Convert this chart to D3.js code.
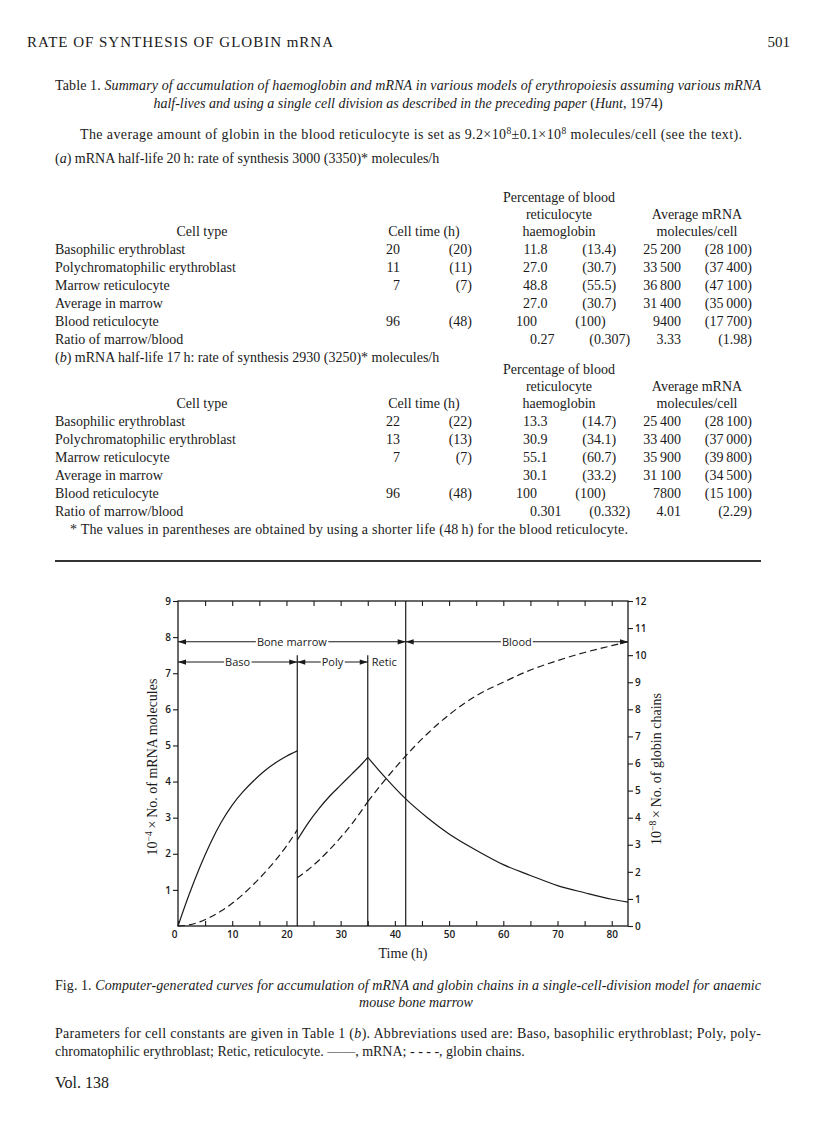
<!DOCTYPE html>
<html>
<head>
<meta charset="utf-8">
<title>Rate of synthesis of globin mRNA</title>
<script src="https://cdn.jsdelivr.net/npm/d3@7"></script>
<style>
body{margin:0;background:#fff;}
svg{display:block;}
.serif{font-family:"Liberation Serif","Times New Roman",serif;fill:#1a1a1a;}
.sans{font-family:"Open Sans",sans-serif;fill:#1a1a1a;}
</style>
</head>
<body>
<svg id="page" width="816" height="1136"></svg>
<script>
// ---- table data ----
const cellTypes = ["Basophilic erythroblast", "Polychromatophilic erythroblast", "Marrow reticulocyte",
                   "Average in marrow", "Blood reticulocyte", "Ratio of marrow/blood"];

const timeA = ["20", "11", "7", "", "96", ""];
const timeAltA = ["(20)", "(11)", "(7)", "", "(48)", ""];
const pctA = ["11.8", "27.0", "48.8", "27.0", "100", "0.27"];
const pctAltA = ["(13.4)", "(30.7)", "(55.5)", "(30.7)", "(100)", "(0.307)"];
const mrnaA = ["25\u2009200", "33\u2009500", "36\u2009800", "31\u2009400", "9400", "3.33"];
const mrnaAltA = ["(28\u2009100)", "(37\u2009400)", "(47\u2009100)", "(35\u2009000)", "(17\u2009700)", "(1.98)"];

const timeB = ["22", "13", "7", "", "96", ""];
const timeAltB = ["(22)", "(13)", "(7)", "", "(48)", ""];
const pctB = ["13.3", "30.9", "55.1", "30.1", "100", "0.301"];
const pctAltB = ["(14.7)", "(34.1)", "(60.7)", "(33.2)", "(100)", "(0.332)"];
const mrnaB = ["25\u2009400", "33\u2009400", "35\u2009900", "31\u2009100", "7800", "4.01"];
const mrnaAltB = ["(28\u2009100)", "(37\u2009000)", "(39\u2009800)", "(34\u2009500)", "(15\u2009100)", "(2.29)"];

// ---- figure data (time in h; mRNA x10^-4, globin x10^-8) ----
const basoT = [0, 2, 4, 6, 8, 10, 12, 14, 16, 18, 20, 22];
const basoMrna = [0, 0.85, 1.62, 2.3, 2.88, 3.35, 3.72, 4.03, 4.3, 4.52, 4.7, 4.85];
const basoGlobin = [0, 0.04, 0.15, 0.33, 0.56, 0.84, 1.17, 1.55, 1.97, 2.43, 2.95, 3.55];

const polyT = [22, 24, 26, 28, 30, 32, 34, 35];
const polyMrna = [2.38, 2.85, 3.25, 3.6, 3.9, 4.2, 4.5, 4.67];
const polyGlobin = [1.78, 2.08, 2.43, 2.83, 3.27, 3.75, 4.3, 4.59];

const lateT = [35, 38, 42, 46, 50, 55, 60, 65, 70, 75, 80, 83];
const lateMrna = [4.67, 4.15, 3.52, 3.0, 2.55, 2.1, 1.7, 1.4, 1.12, 0.92, 0.74, 0.66];
const lateGlobin = [4.59, 5.35, 6.28, 7.1, 7.8, 8.5, 9.0, 9.45, 9.8, 10.1, 10.35, 10.5];

const phaseEdges = [22, 35, 42];
const xTicks = d3.range(0, 81, 5);

const svg = d3.select("#page");
svg.append("rect").attr("width", 816).attr("height", 1136).attr("fill", "#fff");

// text helper: parts = [[string, "i"|"sup"|""], ...]
function line(x, y, parts, opts) {
	opts = opts || {};
	const size = opts.size || 14;
	const t = svg.append("text")
		.attr("class", opts.cls || "serif")
		.attr("x", x).attr("y", y)
		.attr("font-size", size)
		.attr("text-anchor", opts.anchor || "start");
	if (opts.len) t.attr("textLength", opts.len).attr("lengthAdjust", "spacing");
	let raised = false;
	parts.forEach(function(p){
		const s = t.append("tspan").text(p[0]);
		if (p[1] === "i") s.attr("font-style", "italic");
		if (p[1] === "sup") { s.attr("font-size", size * 0.68).attr("dy", -5); raised = true; }
		else if (raised) { s.attr("dy", 5); raised = false; }
	});
	return t;
}

// ---- running head ----
line(27, 47, [["RATE OF SYNTHESIS OF GLOBIN mRNA", ""]], {size: 15, len: 306});
line(790, 47, [["501", ""]], {size: 15, anchor: "end"});

// ---- table caption ----
line(55, 90, [["Table 1. ", ""], ["Summary of accumulation of haemoglobin and mRNA in various models of erythropoiesis assuming various mRNA", "i"]], {len: 706});
line(408, 108, [["half-lives and using a single cell division as described in the preceding paper ", "i"], ["(", ""], ["Hunt", "i"], [", 1974)", ""]], {anchor: "middle"});
line(80, 139, [["The average amount of globin in the blood reticulocyte is set as 9.2\u00d710", ""], ["8", "sup"], ["\u00b10.1\u00d710", ""], ["8", "sup"], [" molecules/cell (see the text).", ""]], {len: 662});

function decimal(x, y, s) {
	const i = s.indexOf(".");
	const head = i >= 0 ? s.slice(0, i) : s.replace(")", "");
	const tail = i >= 0 ? s.slice(i) : (s.endsWith(")") ? ")" : "");
	line(x, y, [[head, ""]], {anchor: "end"});
	if (tail) line(x, y, [[tail, ""]]);
}

function drawTable(y0, times, timesAlt, pct, pctAlt, mrna, mrnaAlt) {
	line(559, y0, [["Percentage of blood", ""]], {anchor: "middle"});
	line(559, y0 + 17, [["reticulocyte", ""]], {anchor: "middle"});
	line(697, y0 + 17, [["Average mRNA", ""]], {anchor: "middle"});
	line(202, y0 + 34, [["Cell type", ""]], {anchor: "middle"});
	line(424, y0 + 34, [["Cell time (h)", ""]], {anchor: "middle"});
	line(559, y0 + 34, [["haemoglobin", ""]], {anchor: "middle"});
	line(697, y0 + 34, [["molecules/cell", ""]], {anchor: "middle"});
	cellTypes.forEach(function(c, i){
		const y = y0 + 52 + i * 18;
		line(55, y, [[c, ""]]);
		if (times[i]) line(400, y, [[times[i], ""]], {anchor: "end"});
		if (timesAlt[i]) line(472, y, [[timesAlt[i], ""]], {anchor: "end"});
		decimal(537, y, pct[i]);
		decimal(601, y, pctAlt[i]);
		line(681, y, [[mrna[i], ""]], {anchor: "end"});
		line(752, y, [[mrnaAlt[i], ""]], {anchor: "end"});
	});
}

line(55, 163, [["(", ""], ["a", "i"], [") mRNA half-life 20\u2009h: rate of synthesis 3000 (3350)* molecules/h", ""]]);
drawTable(202, timeA, timeAltA, pctA, pctAltA, mrnaA, mrnaAltA);
line(55, 362, [["(", ""], ["b", "i"], [") mRNA half-life 17\u2009h: rate of synthesis 2930 (3250)* molecules/h", ""]]);
drawTable(374, timeB, timeAltB, pctB, pctAltB, mrnaB, mrnaAltB);
line(70, 534, [["* The values in parentheses are obtained by using a shorter life (48\u2009h) for the blood reticulocyte.", ""]], {len: 558});

svg.append("line").attr("x1", 55).attr("x2", 761).attr("y1", 561).attr("y2", 561)
	.attr("stroke", "#333").attr("stroke-width", 2);

// ---- figure ----
const x = d3.scaleLinear().domain([0, 83]).range([178, 628]);
const yL = d3.scaleLinear().domain([0, 9]).range([926, 601]);
const yR = d3.scaleLinear().domain([0, 12]).range([926, 601]);
const ink = "#1a1a1a";

const gAx = svg.append("g").attr("class", "sans").attr("font-size", 11).attr("font-weight", 600);

const axBottom = gAx.append("g").attr("transform", "translate(0,926)")
	.call(d3.axisBottom(x).tickValues(xTicks).tickSize(-5).tickPadding(5)
		.tickFormat(function(d){ return d % 10 === 0 ? d : ""; }));
const axTop = gAx.append("g").attr("transform", "translate(0,601)")
	.call(d3.axisTop(x).tickValues(xTicks.slice(1)).tickSize(-5).tickFormat(""));
const axLeft = gAx.append("g").attr("transform", "translate(178,0)")
	.call(d3.axisLeft(yL).tickValues(d3.range(1, 10)).tickSize(5).tickPadding(2));
const axRight = gAx.append("g").attr("transform", "translate(628,0)")
	.call(d3.axisRight(yR).tickValues(d3.range(0, 13)).tickSize(5).tickPadding(2));
axBottom.selectAll(".tick").filter(function(d){ return d === 0; }).select("text").attr("dx", -4);
[axBottom, axTop, axLeft, axRight].forEach(function(g){
	g.select(".domain").remove();
	g.selectAll("line").attr("stroke", ink).attr("stroke-width", 1.1);
	g.selectAll("text").attr("font-family", "Open Sans").attr("fill", ink);
});

svg.append("rect").attr("x", x(0)).attr("y", yL(9))
	.attr("width", x(83) - x(0)).attr("height", yL(0) - yL(9))
	.attr("fill", "none").attr("stroke", ink).attr("stroke-width", 1.3);

// phase boundaries
phaseEdges.forEach(function(t){
	svg.append("line").attr("x1", x(t)).attr("x2", x(t))
		.attr("y1", yL(0)).attr("y2", t === 42 ? yL(9) : yL(7.5))
		.attr("stroke", ink).attr("stroke-width", 1.2);
});

// curves
const lineL = d3.line().x(function(d){ return x(d[0]); }).y(function(d){ return yL(d[1]); }).curve(d3.curveMonotoneX);
const lineR = d3.line().x(function(d){ return x(d[0]); }).y(function(d){ return yR(d[1]); }).curve(d3.curveMonotoneX);
[[basoT, basoMrna, basoGlobin], [polyT, polyMrna, polyGlobin], [lateT, lateMrna, lateGlobin]].forEach(function(seg){
	svg.append("path").attr("d", lineL(d3.zip(seg[0], seg[1])))
		.attr("fill", "none").attr("stroke", ink).attr("stroke-width", 1.2);
	svg.append("path").attr("d", lineR(d3.zip(seg[0], seg[2])))
		.attr("fill", "none").attr("stroke", ink).attr("stroke-width", 1.2).attr("stroke-dasharray", "7,4");
});

// phase arrows
function arrowHead(xt, y, dir) {
	svg.append("path")
		.attr("d", "M" + xt + "," + y + "l" + (-dir * 8) + ",-2.6l0,5.2z")
		.attr("fill", ink);
}
function span(t0, t1, level, label) {
	const y = yL(level);
	svg.append("line").attr("x1", x(t0)).attr("x2", x(t1)).attr("y1", y).attr("y2", y)
		.attr("stroke", ink).attr("stroke-width", 1.1);
	arrowHead(x(t0), y, -1);
	arrowHead(x(t1), y, 1);
	const t = svg.append("text").attr("class", "sans").attr("font-size", 11)
		.attr("x", (x(t0) + x(t1)) / 2).attr("y", y + 4).attr("text-anchor", "middle").text(label);
	const b = t.node().getBBox();
	svg.append("rect").attr("x", b.x - 1).attr("y", y - 2).attr("width", b.width + 2).attr("height", 4).attr("fill", "#fff");
	t.raise();
}
span(0, 42, 7.87, "Bone marrow");
span(42, 83, 7.87, "Blood");
span(0, 22, 7.31, "Baso");
span(22, 35, 7.31, "Poly");
svg.append("text").attr("class", "sans").attr("font-size", 11)
	.attr("x", x(35) + 4).attr("y", yL(7.31) + 4).text("Retic");

// axis titles
line(0, 0, [["10", ""], ["\u22124", "sup"], ["\u2009\u00d7\u2009No. of mRNA molecules", ""]], {size: 14, anchor: "middle"})
	.attr("transform", "translate(157,767) rotate(-90)");
line(0, 0, [["10", ""], ["\u22128", "sup"], ["\u2009\u00d7\u2009No. of globin chains", ""]], {size: 14, anchor: "middle"})
	.attr("transform", "translate(661,769) rotate(-90)");
line(403, 958, [["Time (h)", ""]], {size: 14, anchor: "middle"});

// ---- figure legend ----
line(55, 990, [["Fig. 1. ", ""], ["Computer-generated curves for accumulation of mRNA and globin chains in a single-cell-division model for anaemic", "i"]], {len: 706});
line(416, 1007, [["mouse bone marrow", "i"]], {anchor: "middle"});
line(55, 1038, [["Parameters for cell constants are given in Table 1 (", ""], ["b", "i"], ["). Abbreviations used are: Baso, basophilic erythroblast; Poly, poly-", ""]], {len: 706});
line(55, 1056, [["chromatophilic erythroblast; Retic, reticulocyte. \u2014\u2014, mRNA; - - - -, globin chains.", ""]]);
line(55, 1088, [["Vol. 138", ""]], {size: 16});
</script>
</body>
</html>
